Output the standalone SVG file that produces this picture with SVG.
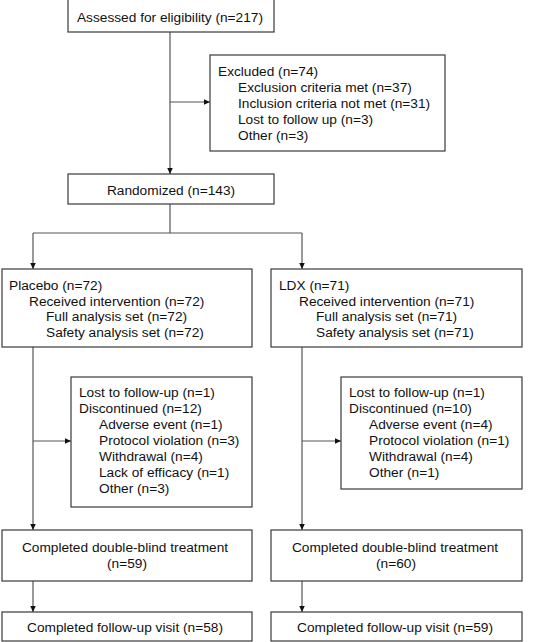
<svg xmlns="http://www.w3.org/2000/svg" width="542" height="642" viewBox="0 0 542 642">
<style>
.b{fill:#fff;stroke:#3a3a3a;stroke-width:1.2}
.t{font-family:"Liberation Sans",Arial,sans-serif;font-size:13.7px;fill:#111}
.c{text-anchor:middle}
.l{fill:none;stroke:#555;stroke-width:1.2}
</style>
<defs>
<marker id="a" markerWidth="8" markerHeight="8" refX="6.5" refY="3" orient="auto" markerUnits="userSpaceOnUse">
<path d="M0,0 L6.5,3 L0,6 Z" fill="#111"/>
</marker>
</defs>
<rect width="542" height="642" fill="#fff"/>
<g id="connectors">
<path class="l" d="M170,32 V174" marker-end="url(#a)"/>
<path class="l" d="M170,102 H210" marker-end="url(#a)"/>
<path class="l" d="M170,204 V233"/>
<path class="l" d="M33,233 H302"/>
<path class="l" d="M33,233 V269" marker-end="url(#a)"/>
<path class="l" d="M302,233 V269" marker-end="url(#a)"/>
<path class="l" d="M33,347 V530" marker-end="url(#a)"/>
<path class="l" d="M33,441 H71" marker-end="url(#a)"/>
<path class="l" d="M302,347 V530" marker-end="url(#a)"/>
<path class="l" d="M302,441 H341" marker-end="url(#a)"/>
<path class="l" d="M33,581 V612" marker-end="url(#a)"/>
<path class="l" d="M302,581 V612" marker-end="url(#a)"/>
</g>
<g id="assessed">
<rect class="b" x="68" y="-1" width="206" height="33"/>
<text class="t c" x="170" y="22">Assessed for eligibility (n=217)</text>
</g>
<g id="excluded">
<rect class="b" x="210" y="55" width="235" height="96"/>
<text class="t" x="218" y="76">Excluded (n=74)</text>
<text class="t" x="238" y="92">Exclusion criteria met (n=37)</text>
<text class="t" x="238" y="108">Inclusion criteria not met (n=31)</text>
<text class="t" x="238" y="124">Lost to follow up (n=3)</text>
<text class="t" x="238" y="140">Other (n=3)</text>
</g>
<g id="randomized">
<rect class="b" x="68" y="174" width="206" height="30"/>
<text class="t c" x="171" y="195">Randomized (n=143)</text>
</g>
<g id="placebo">
<rect class="b" x="2" y="269" width="250" height="78"/>
<text class="t" x="9" y="290">Placebo (n=72)</text>
<text class="t" x="29" y="306">Received intervention (n=72)</text>
<text class="t" x="46" y="321">Full analysis set (n=72)</text>
<text class="t" x="46" y="337">Safety analysis set (n=72)</text>
</g>
<g id="ldx">
<rect class="b" x="271" y="269" width="251" height="78"/>
<text class="t" x="279" y="290">LDX (n=71)</text>
<text class="t" x="299" y="306">Received intervention (n=71)</text>
<text class="t" x="316" y="321">Full analysis set (n=71)</text>
<text class="t" x="316" y="337">Safety analysis set (n=71)</text>
</g>
<g id="placebo-disc">
<rect class="b" x="71" y="377" width="181" height="130"/>
<text class="t" x="79" y="397">Lost to follow-up (n=1)</text>
<text class="t" x="79" y="413">Discontinued (n=12)</text>
<text class="t" x="99" y="429">Adverse event (n=1)</text>
<text class="t" x="99" y="445">Protocol violation (n=3)</text>
<text class="t" x="99" y="461">Withdrawal (n=4)</text>
<text class="t" x="99" y="477">Lack of efficacy (n=1)</text>
<text class="t" x="99" y="493">Other (n=3)</text>
</g>
<g id="ldx-disc">
<rect class="b" x="341" y="377" width="181" height="112"/>
<text class="t" x="349" y="397">Lost to follow-up (n=1)</text>
<text class="t" x="349" y="413">Discontinued (n=10)</text>
<text class="t" x="369" y="429">Adverse event (n=4)</text>
<text class="t" x="369" y="445">Protocol violation (n=1)</text>
<text class="t" x="369" y="461">Withdrawal (n=4)</text>
<text class="t" x="369" y="477">Other (n=1)</text>
</g>
<g id="placebo-completed">
<rect class="b" x="2" y="530" width="250" height="51"/>
<text class="t c" x="125" y="552">Completed double-blind treatment</text>
<text class="t c" x="127" y="568">(n=59)</text>
</g>
<g id="ldx-completed">
<rect class="b" x="271" y="530" width="251" height="51"/>
<text class="t c" x="395" y="552">Completed double-blind treatment</text>
<text class="t c" x="396" y="568">(n=60)</text>
</g>
<g id="placebo-followup">
<rect class="b" x="2" y="612" width="250" height="29"/>
<text class="t c" x="125" y="632">Completed follow-up visit (n=58)</text>
</g>
<g id="ldx-followup">
<rect class="b" x="271" y="612" width="251" height="29"/>
<text class="t c" x="395" y="632">Completed follow-up visit (n=59)</text>
</g>
</svg>
